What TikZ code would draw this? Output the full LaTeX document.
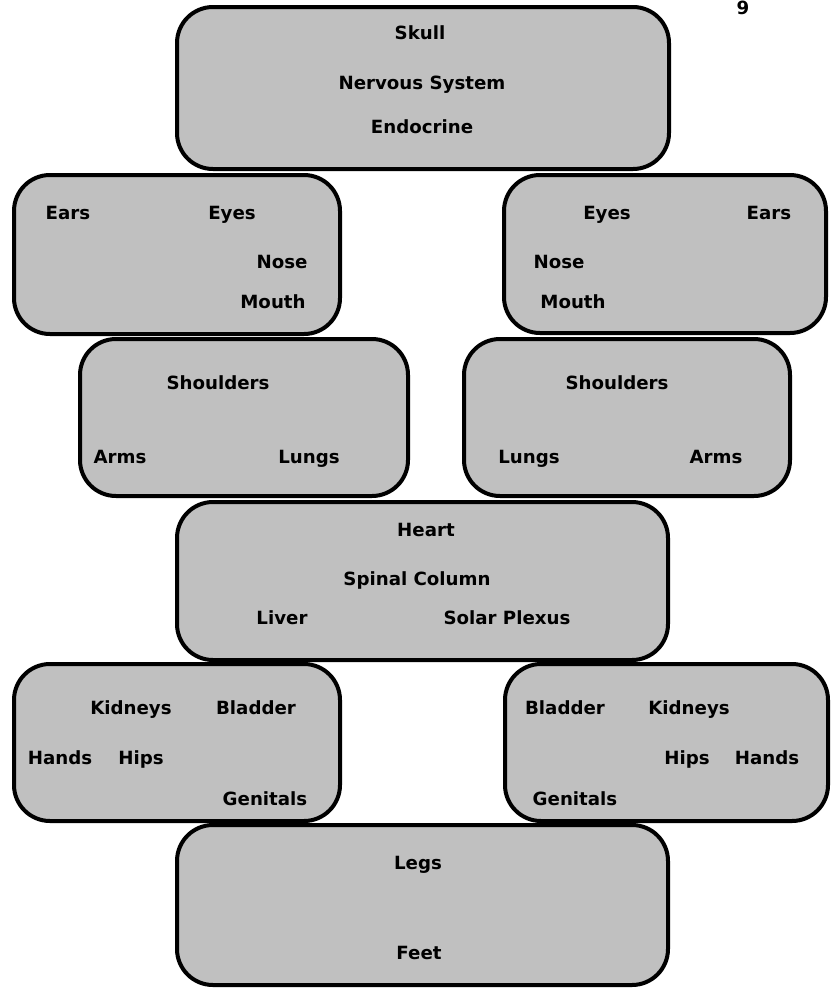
\documentclass[tikz,border=0pt]{standalone}
\usepackage{fontspec}
\setmainfont{DejaVu Sans}
\begin{document}
\begin{tikzpicture}[x=1pt,y=-1pt,
  organ/.style={draw=black,fill=boxgray,line width=4pt,rounded corners=36pt,
    inner sep=0pt,anchor=north west},
  part/.style={font=\bfseries\fontsize{18.2}{21}\selectfont,inner sep=0pt,
    text height=1.45ex,text depth=0.35ex,anchor=center,yshift=-3pt}]
\definecolor{boxgray}{RGB}{192,192,192}
\useasboundingbox (0,0) rectangle (831,988);
\fill[white] (0,0) rectangle (831,988);

% page number
\node[part] (pageno) at (743,8) {9};

% body regions
\node[organ,minimum width=492pt,minimum height=162pt] (head) at (175,5) {};
\node[organ,minimum width=326pt,minimum height=159pt] (faceL) at (12,173) {};
\node[organ,minimum width=322pt,minimum height=158pt] (faceR) at (502,173) {};
\node[organ,minimum width=328pt,minimum height=157pt] (chestL) at (78,337) {};
\node[organ,minimum width=326pt,minimum height=157pt] (chestR) at (462,337) {};
\node[organ,minimum width=491pt,minimum height=158pt] (torso) at (175,500) {};
\node[organ,minimum width=326pt,minimum height=157pt] (pelvisL) at (12,662) {};
\node[organ,minimum width=323pt,minimum height=157pt] (pelvisR) at (503,662) {};
\node[organ,minimum width=491pt,minimum height=160pt] (limbs) at (175,823) {};

% head
\node[part] (skull) at (420,33) {Skull};
\node[part] (nerv) at (422,83) {Nervous System};
\node[part] (endo) at (422,127) {Endocrine};

% face, left
\node[part] (earsL) at (68,213) {Ears};
\node[part] (eyesL) at (232,213) {Eyes};
\node[part] (noseL) at (282,262) {Nose};
\node[part] (mouthL) at (273,302) {Mouth};

% face, right
\node[part] (eyesR) at (607,213) {Eyes};
\node[part] (earsR) at (769,213) {Ears};
\node[part] (noseR) at (559,262) {Nose};
\node[part] (mouthR) at (573,302) {Mouth};

% chest, left
\node[part] (shoulL) at (218,383) {Shoulders};
\node[part] (armsL) at (120,457) {Arms};
\node[part] (lungsL) at (309,457) {Lungs};

% chest, right
\node[part] (shoulR) at (617,383) {Shoulders};
\node[part] (lungsR) at (529,457) {Lungs};
\node[part] (armsR) at (716,457) {Arms};

% torso
\node[part] (heart) at (426,530) {Heart};
\node[part] (spine) at (417,579) {Spinal Column};
\node[part] (liver) at (282,618) {Liver};
\node[part] (solar) at (507,618) {Solar Plexus};

% pelvis, left
\node[part] (kidL) at (131,708) {Kidneys};
\node[part] (bladL) at (256,708) {Bladder};
\node[part] (handsL) at (60,758) {Hands};
\node[part] (hipsL) at (141,758) {Hips};
\node[part] (genL) at (265,799) {Genitals};

% pelvis, right
\node[part] (bladR) at (565,708) {Bladder};
\node[part] (kidR) at (689,708) {Kidneys};
\node[part] (hipsR) at (687,758) {Hips};
\node[part] (handsR) at (767,758) {Hands};
\node[part] (genR) at (575,799) {Genitals};

% limbs
\node[part] (legs) at (418,863) {Legs};
\node[part] (feet) at (419,953) {Feet};
\end{tikzpicture}
\end{document}
